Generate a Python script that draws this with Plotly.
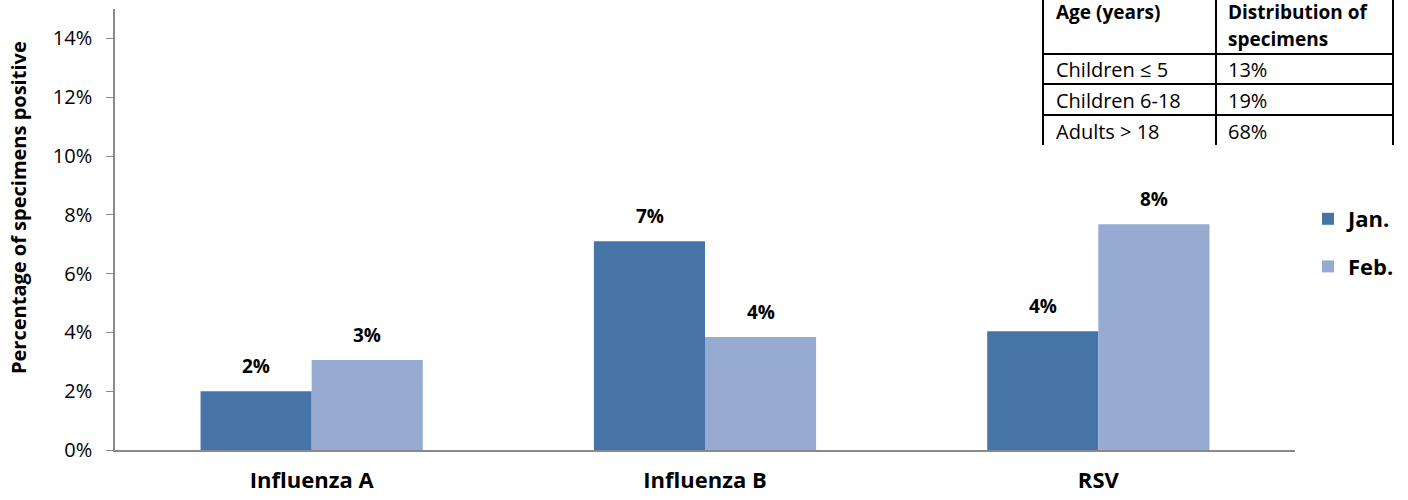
import plotly.graph_objects as go

categories = ["Influenza A", "Influenza B", "RSV"]
jan_values = [2.0, 7.1, 4.04]
feb_values = [3.06, 3.84, 7.68]
jan_labels = ["2%", "7%", "4%"]
feb_labels = ["3%", "4%", "8%"]
y_ticks = [0, 2, 4, 6, 8, 10, 12, 14]
y_ticklabels = [f"{v}%" for v in y_ticks]
y_title = "Percentage of specimens positive"

table_header_left = "Age (years)"
table_header_right = ["Distribution of", "specimens"]
table_ages = ["Children \u2264 5", "Children 6-18", "Adults > 18"]
table_dist = ["13%", "19%", "68%"]

FONT = "Open Sans"
JAN_C = "#4674A6"
FEB_C = "#96AAD2"

fig = go.Figure()
fig.add_trace(go.Bar(x=categories, y=jan_values, name="<b>Jan.</b>", marker_color=JAN_C,
                     marker_line_width=0, legendgroup="jan"))
fig.add_trace(go.Bar(x=categories, y=feb_values, name="<b>Feb.</b>", marker_color=FEB_C,
                     marker_line_width=0, legendgroup="feb"))

# data labels
for vals, labs, shift in [(jan_values, jan_labels, -55.5), (feb_values, feb_labels, 55.5)]:
    for c, v, t in zip(categories, vals, labs):
        fig.add_annotation(x=c, y=v, text=f"<b>{t}</b>", showarrow=False, xshift=shift,
                           yshift=10, yanchor="bottom", font=dict(family=FONT, size=19, color="black"))

# screen-pixel helpers (plot area spans 115..1295 x 9..450)
px0, pw = 115, 1180
py0, ph = 450, 441
def X(p): return (p - px0) / pw
def Y(p): return (py0 - p) / ph

# y-axis title as rotated annotation
fig.add_annotation(xref="paper", yref="paper", x=X(18), y=Y(208), text=f"<b>{y_title}</b>",
                   textangle=-90, showarrow=False, xanchor="center", yanchor="middle",
                   font=dict(family=FONT, size=20, color="black"))

# table
xl, xm, xr = X(1043), X(1216), X(1393)
ytop, yh, y1, y2, yb = Y(-5), Y(54), Y(84), Y(115), Y(145)
line = dict(color="black", width=2)
for xv in (xl, xm, xr):
    fig.add_shape(type="line", xref="paper", yref="paper", x0=xv, x1=xv, y0=yb, y1=ytop, line=line)
for yv in (yh, y1, y2):
    fig.add_shape(type="line", xref="paper", yref="paper", x0=xl, x1=xr, y0=yv, y1=yv, line=line)

hfont = dict(family=FONT, size=19, color="black")
tfont = dict(family=FONT, size=20, color="black")
fig.add_annotation(xref="paper", yref="paper", x=X(1054), y=Y(12), text=f"<b>{table_header_left}</b>",
                   showarrow=False, xanchor="left", yanchor="middle", font=hfont)
for i, t in enumerate(table_header_right):
    fig.add_annotation(xref="paper", yref="paper", x=X(1226), y=Y(12 + 27 * i), text=f"<b>{t}</b>",
                       showarrow=False, xanchor="left", yanchor="middle", font=hfont)
for i, (a, d) in enumerate(zip(table_ages, table_dist)):
    yc = Y(70 + i * 30.5)
    fig.add_annotation(xref="paper", yref="paper", x=X(1054), y=yc, text=a, showarrow=False,
                       xanchor="left", yanchor="middle", font=tfont)
    fig.add_annotation(xref="paper", yref="paper", x=X(1226), y=yc, text=d, showarrow=False,
                       xanchor="left", yanchor="middle", font=tfont)

fig.update_layout(
    width=1408, height=500,
    margin=dict(l=115, r=113, t=9, b=50, autoexpand=False),
    plot_bgcolor="white", paper_bgcolor="white",
    barmode="group", bargap=0.435, bargroupgap=0,
    font=dict(family=FONT, size=20, color="black"),
    legend=dict(x=X(1308), y=Y(198), xanchor="left", yanchor="top",
                font=dict(family=FONT, size=22, color="black"), itemwidth=30,
                tracegroupgap=16),
    showlegend=True,
)
fig.update_yaxes(range=[0, 15], tickvals=y_ticks, ticktext=y_ticklabels, showgrid=False,
                 showline=True, linecolor="#8a8a8a", linewidth=1.5, ticks="outside",
                 ticklen=7, tickcolor="#8a8a8a", tickfont=dict(family=FONT, size=20),
                 ticklabelstandoff=10, zeroline=False, automargin=False)
fig.update_xaxes(showline=True, linecolor="#8a8a8a", linewidth=1.5, showgrid=False,
                 tickfont=dict(family=FONT, size=22), ticks="", ticklabelstandoff=10,
                 automargin=False,
                 tickvals=categories, ticktext=[f"<b>{c}</b>" for c in categories])

fig.write_html("out.html", config={"displayModeBar": False},
               post_script="document.body.style.margin='0';")
